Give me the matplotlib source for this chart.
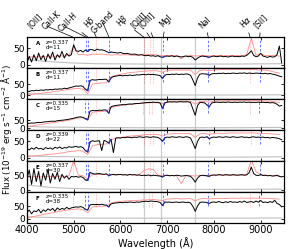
import numpy as np
import matplotlib
matplotlib.use("Agg")
import matplotlib.pyplot as plt

# ---------------- data ----------------
wave = np.arange(4000, 9500, 50)        # observed grid for galaxy spectra
wave_model = np.arange(4000, 9500, 100)  # grid for model spectra
wave_err = [4000, 4250, 4500, 5000, 5500, 6500, 7500, 8500, 9450]

labels = ["A", "B", "C", "D", "E", "F"]
redshifts = [0.337, 0.337, 0.335, 0.339, 0.337, 0.335]
dists = [11, 11, 15, 22, 30, 38]
ylims = [(-10, 83), (-16, 125), (-12, 191), (-9, 85), (-5, 102), (-16, 110)]

flux_A = [5, 25, 8, 30, 12, 35, 15, 28, 10, 32,
          18, 38, 14, 30, 22, 40, 20, 34, 26, 30,
          60, 42, 40, 43, 38, 44, 40, 46, 45, 42,
          47, 44, 45, 43, 40, 36, 38, 37, 36, 35,
          37, 34, 33, 34, 32, 31, 32, 30, 29, 30,
          28, 27, 28, 26, 27, 25, 27, 24, 22, 25,
          26, 25, 27, 24, 26, 25, 23, 25, 26, 24,
          25, 22, 14, 20, 24, 26, 25, 24, 22, 25,
          26, 24, 25, 26, 24, 25, 23, 25, 26, 24,
          25, 24, 26, 25, 28, 34, 42, 28, 24, 26,
          34, 26, 24, 22, 25, 23, 24, 30, 56, 5]
flux_B = [20, 18, 22, 21, 24, 22, 25, 23, 26, 25,
          27, 26, 29, 28, 30, 29, 33, 31, 34, 37,
          40, 43, 42, 44, 41, 28, 22, 68, 72, 70,
          71, 73, 72, 74, 73, 62, 80, 86, 88, 90,
          91, 89, 92, 90, 93, 91, 92, 94, 93, 95,
          96, 94, 97, 95, 96, 94, 93, 90, 78, 92,
          96, 95, 97, 96, 98, 95, 97, 96, 98, 97,
          92, 70, 45, 80, 97, 99, 98, 97, 92, 98,
          100, 99, 101, 100, 102, 99, 101, 100, 102, 101,
          100, 102, 101, 103, 100, 102, 101, 100, 102, 101,
          100, 99, 101, 98, 100, 97, 95, 92, 88, 85]
flux_C = [30, 31, 33, 32, 35, 37, 36, 39, 41, 42,
          44, 45, 44, 48, 50, 51, 53, 55, 58, 61,
          64, 69, 72, 73, 70, 62, 55, 111, 115, 114,
          115, 117, 116, 119, 117, 98, 140, 145, 148, 150,
          152, 154, 153, 156, 158, 157, 160, 161, 161, 164,
          165, 167, 168, 168, 170, 168, 169, 164, 129, 165,
          170, 172, 171, 172, 170, 172, 173, 171, 172, 172,
          167, 125, 84, 148, 168, 167, 165, 152, 139, 164,
          168, 170, 169, 168, 170, 168, 171, 169, 168, 170,
          168, 170, 169, 171, 168, 170, 168, 169, 168, 170,
          168, 169, 167, 168, 165, 167, 164, 156, 144, 148]
flux_D = [28, 24, 30, 26, 32, 27, 29, 25, 31, 28,
          30, 26, 32, 29, 33, 28, 31, 30, 34, 32,
          33, 35, 32, 34, 31, 22, 18, 48, 52, 50,
          51, 52, 22, 53, 50, 45, 56, 16, 60, 61,
          60, 62, 61, 63, 62, 61, 63, 62, 64, 63,
          62, 64, 63, 62, 64, 63, 62, 58, 50, 61,
          63, 62, 64, 63, 62, 64, 63, 62, 64, 63,
          60, 45, 28, 50, 62, 63, 62, 64, 58, 62,
          63, 62, 64, 63, 62, 64, 63, 62, 64, 63,
          62, 63, 64, 62, 63, 61, 63, 64, 62, 63,
          62, 63, 61, 62, 60, 62, 61, 60, 58, 55]
flux_E = [40, 70, 20, 75, 30, 65, 15, 60, 35, 72,
          25, 58, 38, 62, 30, 55, 42, 50, 38, 48,
          46, 48, 45, 47, 44, 36, 34, 62, 58, 56,
          57, 58, 56, 55, 57, 50, 54, 55, 53, 54,
          55, 53, 54, 52, 55, 53, 54, 52, 53, 51,
          52, 51, 53, 50, 52, 51, 50, 49, 46, 51,
          52, 50, 51, 50, 52, 51, 49, 50, 51, 50,
          48, 40, 28, 42, 50, 52, 51, 50, 48, 52,
          53, 52, 54, 53, 52, 54, 53, 52, 54, 53,
          52, 53, 54, 52, 53, 60, 80, 58, 52, 51,
          54, 51, 52, 50, 51, 49, 50, 52, 48, 46]
flux_F = [25, 35, 20, 32, 28, 38, 24, 36, 30, 40,
          34, 42, 30, 44, 36, 42, 38, 46, 40, 44,
          46, 48, 47, 49, 46, 38, 36, 56, 58, 57,
          58, 57, 59, 56, 55, 48, 60, 63, 64, 65,
          66, 65, 67, 66, 68, 67, 66, 68, 67, 69,
          70, 71, 70, 72, 71, 70, 69, 66, 54, 68,
          67, 68, 66, 67, 68, 66, 67, 68, 66, 67,
          64, 50, 30, 52, 66, 68, 67, 66, 62, 67,
          68, 66, 70, 67, 65, 69, 66, 70, 67, 68,
          66, 70, 67, 72, 66, 68, 70, 66, 72, 67,
          74, 66, 68, 65, 70, 66, 75, 62, 58, 48]

model_A = [22, 24, 23, 25, 24, 26, 25, 27, 26, 28,
           55, 30, 31, 28, 32, 31, 32, 30, 29, 30,
           29, 30, 29, 28, 29, 32, 30, 31, 28, 27,
           28, 27, 28, 18, 27, 28, 26, 27, 28, 26,
           27, 28, 27, 28, 27, 28, 27, 30, 80, 28,
           33, 27, 28, 27, 26]
model_B = [2, 5, 8, 10, 12, 15, 18, 21, 24, 28,
           30, 32, 28, 8, 52, 55, 57, 58, 85, 92,
           96, 100, 104, 106, 108, 110, 112, 113, 112, 105,
           114, 115, 116, 115, 116, 115, 95, 114, 116, 112,
           116, 117, 118, 117, 118, 119, 118, 119, 118, 117,
           116, 115, 112, 106, 102]
model_C = [9, 14, 19, 23, 28, 33, 37, 42, 47, 51,
           59, 66, 67, 51, 103, 108, 109, 111, 134, 142,
           147, 151, 154, 158, 161, 162, 165, 167, 165, 160,
           170, 173, 175, 176, 176, 176, 156, 175, 173, 170,
           176, 178, 177, 179, 178, 179, 179, 180, 179, 179,
           178, 177, 175, 172, 168]
model_D = [3, 5, 6, 8, 9, 11, 12, 14, 16, 19,
           20, 22, 20, 10, 36, 40, 41, 42, 55, 60,
           62, 64, 66, 67, 68, 70, 71, 72, 71, 66,
           72, 73, 74, 73, 74, 73, 62, 73, 74, 71,
           74, 75, 74, 75, 76, 75, 76, 75, 76, 75,
           75, 74, 73, 72, 71]
model_E = [45, 46, 47, 46, 48, 47, 48, 49, 48, 50,
           103, 52, 50, 40, 54, 55, 54, 55, 53, 54,
           54, 53, 54, 53, 54, 68, 74, 72, 53, 50,
           52, 51, 50, 23, 50, 51, 49, 51, 50, 52,
           52, 53, 52, 53, 52, 53, 52, 55, 103, 65,
           54, 52, 51, 50, 49]
model_F = [3, 7, 11, 15, 19, 23, 26, 30, 33, 36,
           38, 40, 36, 24, 48, 50, 51, 52, 64, 68,
           70, 72, 73, 74, 75, 76, 77, 78, 76, 74,
           80, 81, 82, 80, 81, 82, 72, 81, 82, 80,
           82, 83, 82, 83, 84, 83, 84, 83, 84, 83,
           84, 83, 82, 81, 80]

err_A = [16, 12, 9, 5, 3, 2, 2, 2, 3]
err_B = [8, 6, 5, 3, 2, 2, 2, 2, 3]
err_C = [12, 8, 6, 5, 3, 2, 2, 2, 4]
err_D = [6, 5, 4, 3, 2, 2, 2, 2, 3]
err_E = [18, 14, 10, 6, 4, 3, 3, 3, 4]
err_F = [8, 6, 5, 3, 2, 2, 2, 2, 3]

fluxes = [flux_A, flux_B, flux_C, flux_D, flux_E, flux_F]
models = [model_A, model_B, model_C, model_D, model_E, model_F]
errs = [err_A, err_B, err_C, err_D, err_E, err_F]

# rest-frame lines
emission_lines = [3727, 4102, 4861, 4959, 5007, 6563]
absorption_lines = [3934, 3969, 4304, 5175, 5893, 6716]
sky_lines = [6500, 6870, 7600]

line_names = ["[OII]", "CaII-K", "CaII-H", r"H$\delta$", "G-band", r"H$\beta$",
              "[OIII]", "[OIII]", "MgI", "NaI", r"H$\alpha$", "[SII]"]
line_rest = [3727, 3934, 3969, 4102, 4304, 4861, 4959, 5007, 5175, 5893, 6563, 6716]
label_x = [4107, 4427, 4769, 5325, 5474, 6051, 6308, 6479, 6927, 7782, 8658, 8957]
label_dy = [0.23, 0.2, 0.12, 0.23, 0.06, 0.23, 0.23, 0.23, 0.26, 0.23, 0.23, 0.23]

# ---------------- plot ----------------
fig = plt.figure(figsize=(2.99, 2.49), dpi=100)
axes = fig.subplots(6, 1, sharex=True, gridspec_kw=dict(hspace=0))
fig.subplots_adjust(left=0.09, right=0.95, top=0.851, bottom=0.106)

red = "#ff8a8a"
for k, ax in enumerate(axes):
    z = redshifts[k]
    for s in sky_lines:
        ax.axvline(s, color="0.8", lw=0.9, zorder=0)
    ax.plot(wave_err, errs[k], color="0.75", lw=0.8, zorder=1)
    for l in emission_lines:
        ax.axvline(l * (1 + z), ymin=0.5, ymax=1.0, color="red", ls=":", lw=0.5, alpha=0.5, zorder=1)
    for l in absorption_lines:
        ax.axvline(l * (1 + z), ymin=0.55, ymax=0.97, color="#5566ff", ls=(0, (3, 2)), lw=0.6, zorder=1)
    ax.plot(wave_model, models[k], color=red, lw=0.6, zorder=2)
    f = np.array(fluxes[k], dtype=float)
    ax.plot(wave, f, color="black", lw=0.7, zorder=3)
    # absorption features highlighted in blue
    for l in absorption_lines[:5]:
        c = l * (1 + z)
        m = np.abs(wave - c) <= 50
        if m.sum() > 1:
            ax.plot(wave[m], f[m], color="#2233cc", lw=0.8, zorder=4)
    ax.set_ylim(*ylims[k])
    ax.set_xlim(4000, 9500)
    ax.set_yticks([0, 50])
    ax.set_xticks([4000, 5000, 6000, 7000, 8000, 9000])
    ax.tick_params(direction="in", top=True, right=True, labelsize=7, length=2.5, width=0.6, pad=1.5)
    ax.tick_params(axis="y", labelsize=6.5)
    for sp in ax.spines.values():
        sp.set_linewidth(0.9)
    ax.text(0.035, 0.78, labels[k], transform=ax.transAxes, fontsize=4, fontweight="bold", va="center")
    ax.text(0.075, 0.92, f"z={z:.3f}\nd={dists[k]}", transform=ax.transAxes, fontsize=4,
            va="top", linespacing=1.0)

# line labels on top panel
ax0 = axes[0]
for name, rest, lx, dy in zip(line_names, line_rest, label_x, label_dy):
    ax0.annotate(name, xy=(rest * (1 + redshifts[0]), 1.0), xycoords=("data", "axes fraction"),
                 xytext=(lx, 1.0 + dy), textcoords=("data", "axes fraction"),
                 rotation=45, rotation_mode="anchor", ha="left", va="bottom", fontsize=5.5,
                 arrowprops=dict(arrowstyle="-", lw=0.5, color="black", shrinkA=0, shrinkB=0),
                 annotation_clip=False)

axes[-1].set_xlabel("Wavelength (Å)", fontsize=7, labelpad=2)
fig.text(0.022, 0.48, r"Flux (10$^{-19}$ erg s$^{-1}$ cm$^{-2}$ Å$^{-1}$)", rotation=90,
         va="center", ha="center", fontsize=6.3)

fig.savefig("out.png", dpi=100)
